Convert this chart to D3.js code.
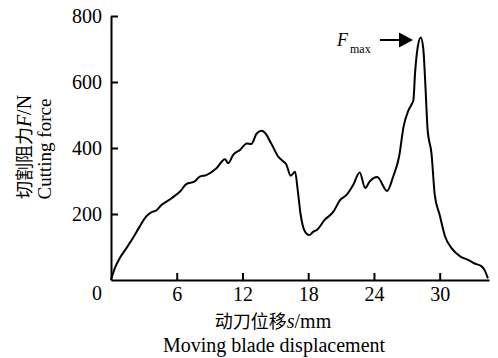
<!DOCTYPE html>
<html>
<head>
<meta charset="utf-8">
<script src="https://cdn.jsdelivr.net/npm/d3@7"></script>
<style>
  html, body { margin: 0; padding: 0; background: #fff; }
  svg { display: block; }
  text { font-family: "Liberation Serif", "Times New Roman", serif; fill: #000; }
  .cjk { font-family: "Noto Sans CJK SC", sans-serif; }
</style>
</head>
<body>
<script>
// ---- data ----
const displacement = [0, 0.34, 0.79, 1.4, 2.0, 2.6, 3.2, 3.67, 4.1, 4.6, 5.5, 6.3, 6.9, 7.6, 8.1, 8.7, 9.6, 10.4, 10.7, 11.15, 11.8, 12.4, 12.8, 13.3, 13.75, 14.05, 14.6, 15.3, 15.7, 16.0, 16.4, 16.8, 17.05, 17.3, 17.5, 17.85, 18.1, 18.45, 18.8, 19.5, 20.3, 20.9, 21.5, 22.1, 22.7, 23.2, 23.6, 24.3, 25.2, 25.75, 26.3, 26.7, 27.1, 27.4, 27.6, 27.75, 28.0, 28.27, 28.5, 28.7, 28.9, 29.25, 29.55, 30.0, 30.5, 31.1, 31.9, 32.6, 33.2, 33.8, 34.1, 34.4];
const force = [0, 35, 66, 96, 127, 161, 192, 205, 210, 227, 247, 268, 291, 298, 313, 318, 338, 366, 354, 379, 395, 414, 412, 444, 452, 446, 415, 372, 360, 350, 316, 328, 270, 200, 165, 140, 136, 146, 152, 182, 207, 242, 258, 288, 326, 279, 298, 312, 270, 313, 375, 464, 510, 530, 545, 626, 707, 735, 702, 586, 454, 384, 258, 197, 131, 96, 71, 61, 50, 42, 30, 5];
const xTickValues = [6, 12, 18, 24, 30];
const yTickValues = [200, 400, 600, 800];
const xDomain = [0, 34.5];
const yDomain = [0, 800];

// ---- layout ----
const W = 498, H = 358;
const mLeft = 111, mRight = 489, mTop = 16, mBottom = 280;

const svg = d3.select("body").append("svg").attr("width", W).attr("height", H);
svg.append("rect").attr("width", W).attr("height", H).attr("fill", "#fff");

const x = d3.scaleLinear().domain(xDomain).range([mLeft, mRight]);
const y = d3.scaleLinear().domain(yDomain).range([mBottom, mTop]);

const xAxis = svg.append("g").attr("transform", `translate(0,${mBottom})`)
  .call(d3.axisBottom(x).tickValues(xTickValues).tickSize(-7).tickPadding(7).tickSizeOuter(0));
const yAxis = svg.append("g").attr("transform", `translate(${mLeft},0)`)
  .call(d3.axisLeft(y).tickValues(yTickValues).tickSize(-7).tickPadding(9).tickSizeOuter(0));

[xAxis, yAxis].forEach(g => {
  g.selectAll(".domain").attr("stroke", "#000").attr("stroke-width", 2);
  g.selectAll(".tick line").attr("stroke", "#000").attr("stroke-width", 2);
  g.selectAll("text").attr("font-size", 20).attr("font-family", "Liberation Serif").attr("fill", "#000");
});

// corner zero label
svg.append("text").attr("x", 102).attr("y", 300).attr("text-anchor", "end")
  .attr("font-size", 20).text("0");

// curve
const pts = displacement.map((d, i) => [d, force[i]]);
svg.append("path").datum(pts)
  .attr("fill", "none").attr("stroke", "#000").attr("stroke-width", 2)
  .attr("stroke-linejoin", "round")
  .attr("d", d3.line().x(d => x(d[0])).y(d => y(d[1])).curve(d3.curveMonotoneX));

// x title
const xt = svg.append("text").attr("x", 273).attr("y", 328).attr("text-anchor", "middle").attr("font-size", 20);
xt.append("tspan").attr("class", "cjk").attr("font-size", 18).text("动刀位移");
xt.append("tspan").attr("font-style", "italic").text("s");
xt.append("tspan").text("/mm");
svg.append("text").attr("x", 274).attr("y", 352).attr("text-anchor", "middle").attr("font-size", 20)
  .text("Moving blade displacement");

// y title
const yt = svg.append("text").attr("transform", "translate(31,147) rotate(-90)").attr("text-anchor", "middle").attr("font-size", 20);
yt.append("tspan").attr("class", "cjk").attr("font-size", 18).text("切割阻力");
yt.append("tspan").attr("font-style", "italic").text("F");
yt.append("tspan").text("/N");
svg.append("text").attr("transform", "translate(51,149) rotate(-90)").attr("text-anchor", "middle").attr("font-size", 19)
  .text("Cutting force");

// Fmax annotation
svg.append("text").attr("x", 337).attr("y", 46).attr("font-size", 18).attr("font-style", "italic").text("F");
svg.append("text").attr("x", 350).attr("y", 53).attr("font-size", 12).text("max");
svg.append("line").attr("x1", 380).attr("x2", 400).attr("y1", 40).attr("y2", 40).attr("stroke", "#000").attr("stroke-width", 2);
svg.append("path").attr("d", "M399,32.5 L413,40 L399,47.5 Z").attr("fill", "#000");
</script>
</body>
</html>
